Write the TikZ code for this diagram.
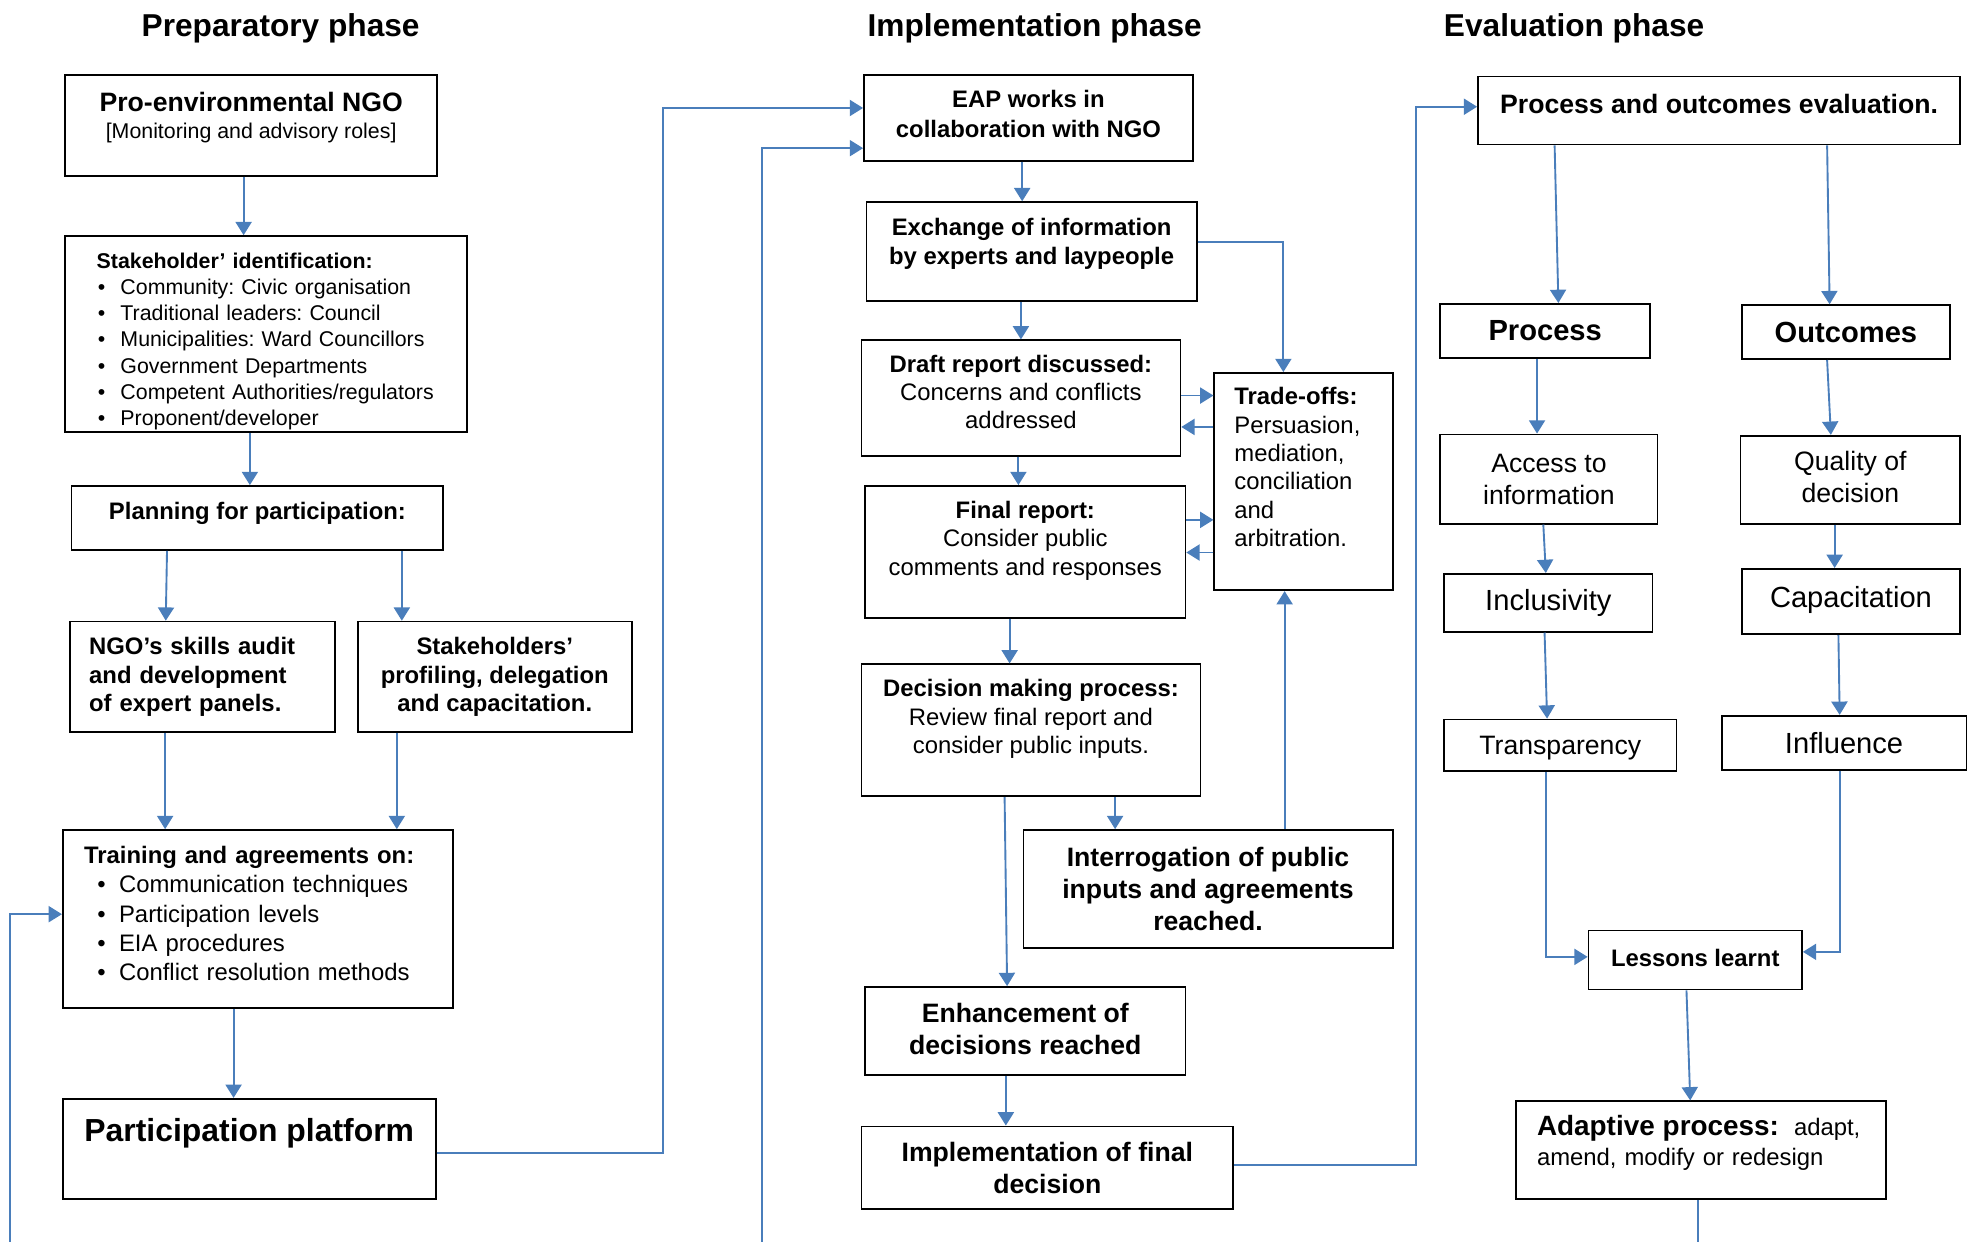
\documentclass[tikz,border=0pt]{standalone}
\usepackage{fontspec}
\setmainfont{Liberation Sans}
\usetikzlibrary{arrows.meta}
\definecolor{flowblue}{RGB}{74,126,187}
\frenchspacing
\newcommand{\fbody}{\fontsize{9.5pt}{11.3pt}\selectfont}
\newcommand{\fsmall}{\fontsize{8.5pt}{10.45pt}\selectfont}
\newcommand{\fmid}{\fontsize{10.6pt}{12.7pt}\selectfont}
\newcommand{\fbig}{\fontsize{11.6pt}{13.9pt}\selectfont}
\newcommand{\fhead}{\fontsize{12.6pt}{15pt}\selectfont}
\newcommand{\lift}[1]{\rule[-#1]{0pt}{#1}}
\newcommand{\blt}[2]{\hspace*{#1}\textbullet\hspace{#2}}

\begin{document}
\begin{tikzpicture}[x=0.5pt, y=-0.5pt,
    box/.style={draw, line width=0.7pt, inner sep=0pt, align=center, font=\fbody},
    phase/.style={anchor=base, font=\fhead\bfseries},
    flow/.style={draw=flowblue, line width=0.75pt, -{Triangle[length=5.3pt, width=6.4pt]}},
    link/.style={draw=flowblue, line width=0.75pt}]
    \useasboundingbox (0,0) rectangle (1568,989);

    % Phase headings
    \node[phase] (prep) at (223.5,29) {Preparatory phase};
    \node[phase] (impl) at (824,29) {Implementation phase};
    \node[phase] (eval) at (1253.5,29) {Evaluation phase};

    % Preparatory phase
    \node[box, font=\fmid, minimum width=148pt, minimum height=40pt] (ngo) at (200,100)
        {\textbf{Pro-environmental NGO}\\[-2pt]{\fsmall [Monitoring and advisory roles]}\lift{8pt}};
    \node[box, font=\fsmall, align=left, text width=135pt, inner xsep=12.5pt,
          minimum width=160pt, minimum height=78pt] (stake) at (212,266)
        {\rule{0pt}{12pt}\textbf{Stakeholder’ identification:}\\
         \blt{0.5pt}{6pt}Community: Civic organisation\\
         \blt{0.5pt}{6pt}Traditional leaders: Council\\
         \blt{0.5pt}{6pt}Municipalities: Ward Councillors\\
         \blt{0.5pt}{6pt}Government Departments\\
         \blt{0.5pt}{6pt}Competent Authorities/regulators\\
         \blt{0.5pt}{6pt}Proponent/developer};
    \node[box, minimum width=148pt, minimum height=25.5pt] (plan) at (205,412.5)
        {\textbf{Planning for participation:}\lift{5.5pt}};
    \node[box, align=left, text width=90.5pt, inner xsep=7.5pt,
          minimum width=105.5pt, minimum height=44pt] (skills) at (161.5,539)
        {\textbf{NGO’s skills audit\\ and development\\ of expert panels.}};
    \node[box, font=\fbody\bfseries, minimum width=109pt, minimum height=44pt] (profile) at (394,539)
        {Stakeholders’\\ profiling, delegation\\ and capacitation.};
    \node[box, font=\fontsize{9.5pt}{11.65pt}\selectfont, align=left, text width=138.5pt, inner xsep=8.5pt,
          minimum width=155.5pt, minimum height=71pt] (train) at (205.5,732)
        {\textbf{Training and agreements on:}\\
         \blt{5.3pt}{5.3pt}Communication techniques\\
         \blt{5.3pt}{5.3pt}Participation levels\\
         \blt{5.3pt}{5.3pt}EIA procedures\\
         \blt{5.3pt}{5.3pt}Conflict resolution methods\lift{4.5pt}};
    \node[box, font=\fontsize{12.7pt}{15pt}\selectfont\bfseries, minimum width=148.5pt, minimum height=40pt]
        (platform) at (198.5,915) {Participation platform\lift{15.5pt}};

    % Implementation phase
    \node[box, font=\fbody\bfseries, minimum width=131pt, minimum height=34pt] (eap) at (819,94)
        {EAP works in\\[0.7pt] collaboration with NGO\lift{3.5pt}};
    \node[box, font=\fbody\bfseries, minimum width=131.5pt, minimum height=39.5pt] (exch) at (821.5,200.5)
        {Exchange of information\\[0.2pt] by experts and laypeople\lift{8.5pt}};
    \node[box, minimum width=127pt, minimum height=46pt] (draft) at (813,317)
        {\textbf{Draft report discussed:}\\ Concerns and conflicts\\ addressed\lift{5pt}};
    \node[box, align=left, text width=55pt, inner xsep=8pt,
          minimum width=71pt, minimum height=86.5pt] (trade) at (1038,383.5)
        {\textbf{Trade-offs:}\\ Persuasion,\\ mediation,\\ conciliation\\ and\\ arbitration.\lift{11.5pt}};
    \node[box, minimum width=127.5pt, minimum height=52.5pt] (final) at (816.5,439.5)
        {\textbf{Final report:}\\ Consider public\\ comments and responses\lift{11pt}};
    \node[box, minimum width=135pt, minimum height=52.5pt] (decide) at (821,581.5)
        {\textbf{Decision making process:}\\ Review final report and\\ consider public inputs.\lift{11pt}};
    \node[box, font=\fmid\bfseries, minimum width=147pt, minimum height=47pt] (interr) at (962,708)
        {Interrogation of public\\ inputs and agreements\\ reached.};
    \node[box, font=\fmid\bfseries, minimum width=127.5pt, minimum height=35pt] (enhance) at (816.5,821)
        {Enhancement of\\ decisions reached\lift{2pt}};
    \node[box, font=\fmid\bfseries, minimum width=148pt, minimum height=33pt] (implem) at (834,930)
        {Implementation of final\\ decision};

    % Evaluation phase
    \node[box, font=\fmid\bfseries, minimum width=192pt, minimum height=27pt] (evalu) at (1369,88)
        {Process and outcomes evaluation.\lift{5pt}};
    \node[box, font=\fbig\bfseries, minimum width=83.5pt, minimum height=21.5pt] (proc) at (1230.5,263.5) {Process};
    \node[box, font=\fbig\bfseries, minimum width=83pt, minimum height=21.5pt] (outc) at (1470,264.5) {Outcomes};
    \node[box, font=\fmid, minimum width=86.5pt, minimum height=35.5pt] (access) at (1233.5,381.5)
        {Access to\\ information};
    \node[box, font=\fmid, minimum width=87.5pt, minimum height=35pt] (quality) at (1473.5,382)
        {Quality of\\ decision\lift{2pt}};
    \node[box, font=\fbig, minimum width=83pt, minimum height=23pt] (inclus) at (1233,480) {Inclusivity};
    \node[box, font=\fbig, minimum width=87pt, minimum height=26pt] (capac) at (1474,479) {Capacitation\lift{4pt}};
    \node[box, font=\fmid, minimum width=92.5pt, minimum height=20.5pt] (transp) at (1242.5,593.5) {\rule{0pt}{9.5pt}Transparency};
    \node[box, font=\fbig, minimum width=97.5pt, minimum height=21.5pt] (influ) at (1468.5,591.5) {Influence};
    \node[box, font=\fbody\bfseries, minimum width=85pt, minimum height=23.5pt] (lessons) at (1350,764.5) {Lessons learnt\lift{2pt}};
    \node[box, font=\fontsize{9.5pt}{12pt}\selectfont, align=left, text width=130.5pt, inner xsep=8.5pt,
          minimum width=147.5pt, minimum height=39pt] (adapt) at (1354.5,916)
        {{\fontsize{11.1pt}{12pt}\selectfont\bfseries Adaptive process:}\hspace{6pt}adapt,\\ amend, modify or redesign\lift{8pt}};

    % Loose ends leaving the page
    \coordinate (loopA) at (8,990);
    \coordinate (loopB) at (607,990);
    \coordinate (loopC) at (1352,990);

    % Preparatory connectors
    \draw[flow] ([xshift=-3pt]ngo.south) -- ([xshift=-9pt]stake.north);
    \draw[flow] ([xshift=-6.5pt]stake.south) -- ([xshift=-3pt]plan.north);
    \draw[flow] ([xshift=-36pt]plan.south) -- ([xshift=-14.75pt]skills.north);
    \draw[flow] ([xshift=57.5pt]plan.south) -- ([xshift=-37pt]profile.north);
    \draw[flow] ([xshift=-15pt]skills.south) -- ([xshift=-37pt]train.north);
    \draw[flow] ([xshift=-39pt]profile.south) -- ([xshift=55.25pt]train.north);
    \draw[flow] ([xshift=-9.75pt]train.south) -- ([xshift=-6.25pt]platform.north);
    \draw[flow] (loopA) |- ([yshift=2pt]train.west);
    \draw[flow] ([yshift=-1.5pt]platform.east) -- ++(180,0) |- ([yshift=4pt]eap.west);

    % Implementation connectors
    \draw[flow] (loopB) |- ([yshift=-12pt]eap.west);
    \draw[flow] ([xshift=-2.5pt]eap.south) -- ([xshift=-3.75pt]exch.north);
    \draw[flow] ([xshift=-4.25pt]exch.south) -- (draft.north);
    \draw[flow] ([yshift=3.75pt]exch.east) -| ([xshift=-8pt]trade.north);
    \draw[flow] ([yshift=1pt]draft.east) -- ([yshift=1pt]draft.east -| trade.west);
    \draw[flow] ([yshift=-11.5pt]draft.east -| trade.west) -- ([yshift=-11.5pt]draft.east);
    \draw[flow] ([xshift=-1pt]draft.south) -- ([xshift=-2.75pt]final.north);
    \draw[flow] ([yshift=12.75pt]final.east) -- ([yshift=12.75pt]final.east -| trade.west);
    \draw[flow] ([yshift=-0.25pt]final.east -| trade.west) -- ([yshift=-0.25pt]final.east);
    \draw[flow] ([xshift=-6.25pt]final.south) -- ([xshift=-8.5pt]decide.north);
    \draw[flow] ([xshift=33.5pt]decide.south) -- ([xshift=-37pt]interr.north);
    \draw[flow] ([xshift=-10.5pt]decide.south) -- ([xshift=-7.25pt]enhance.north);
    \draw[flow] ([xshift=30.5pt]interr.north) -- ([xshift=-7.5pt]trade.south);
    \draw[flow] ([xshift=-7.75pt]enhance.south) -- ([xshift=-16.5pt]implem.north);
    \draw[flow] ([yshift=1pt]implem.east) -- ++(145,0) |- ([yshift=1.5pt]evalu.west);

    % Evaluation connectors
    \draw[flow] ([xshift=-65.5pt]evalu.south) -- ([xshift=5.25pt]proc.north);
    \draw[flow] ([xshift=43pt]evalu.south) -- ([xshift=-6.5pt]outc.north);
    \draw[flow] ([xshift=-3.25pt]proc.south) -- ([xshift=-4.75pt]access.north);
    \draw[flow] ([xshift=-7.5pt]outc.south) -- ([xshift=-7.75pt]quality.north);
    \draw[flow] ([xshift=-2.25pt]access.south) -- ([xshift=-1pt]inclus.north);
    \draw[flow] ([xshift=-6.25pt]quality.south) -- ([xshift=-6.5pt]capac.north);
    \draw[flow] ([xshift=-1.5pt]inclus.south) -- ([xshift=-5.25pt]transp.north);
    \draw[flow] ([xshift=-5pt]capac.south) -- ([xshift=-1.75pt]influ.north);
    \draw[flow] ([xshift=-5.75pt]transp.south) |- ([yshift=1.25pt]lessons.west);
    \draw[flow] ([xshift=-1.75pt]influ.south) |- ([yshift=3.25pt]lessons.east);
    \draw[flow] ([xshift=-3.5pt]lessons.south) -- ([xshift=-4.25pt]adapt.north);
    \draw[link] (adapt.south -| loopC) -- (loopC);
\end{tikzpicture}
\end{document}
